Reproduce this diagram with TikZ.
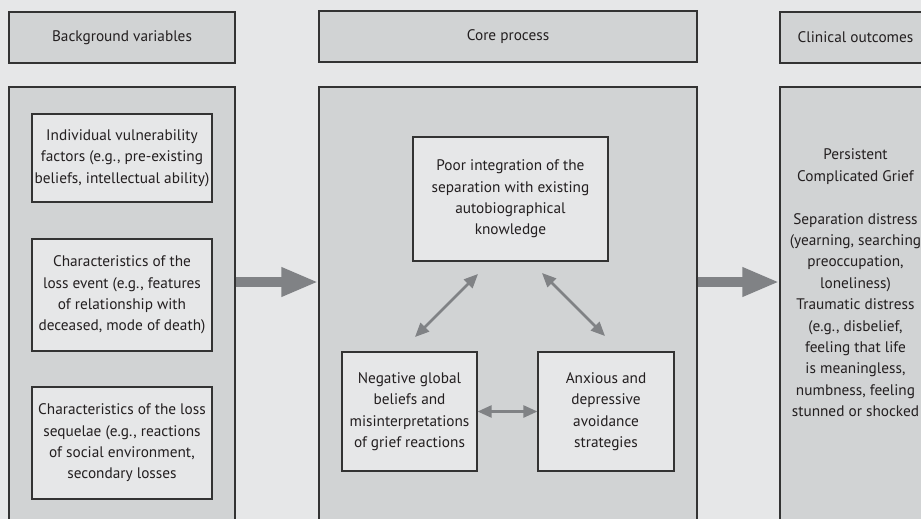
\documentclass[tikz,border=0pt]{standalone}
\usepackage{fontspec}
\setmainfont{PT Sans}
\usetikzlibrary{arrows.meta,calc}
\definecolor{bgc}{HTML}{E6E7E8}
\definecolor{panelc}{HTML}{D1D3D4}
\definecolor{boxc}{HTML}{E6E7E8}
\definecolor{arrc}{HTML}{808285}
\definecolor{linec}{HTML}{333333}
\definecolor{txtc}{HTML}{231F20}
\begin{document}
\begin{tikzpicture}[x=1pt,y=-1pt,
  txt/.style={font=\fontsize{15.3}{21.4}\selectfont, text=txtc, align=center},
  panel/.style={draw=linec, line width=1.2pt, fill=panelc, inner sep=0pt, txt},
  inbox/.style={draw=linec, line width=1.2pt, fill=boxc, inner sep=0pt, txt},
  bigarrow/.style={draw=arrc, line width=10pt, -{Triangle[length=37pt,width=27pt]}},
  smallarrow/.style={draw=arrc, line width=2.5pt, {Triangle[length=14pt,width=12pt]}-{Triangle[length=14pt,width=12pt]}}
]
\path[use as bounding box, clip] (0,0) rectangle (921,519);
\fill[bgc] (0,0) rectangle (921,519);

% headers
\node[panel, minimum width=226pt, minimum height=51pt] (hl) at (122,37.5) {Background variables};
\node[panel, minimum width=378pt, minimum height=51pt] (hm) at (508,36.5) {Core process};
\node[panel, minimum width=151pt, minimum height=51pt] (hr) at (855.5,37.5) {Clinical outcomes};

% panels
\node[panel, minimum width=226pt, minimum height=453pt] (pl) at (122,313.5) {};
\node[panel, minimum width=378pt, minimum height=453pt] (pm) at (508,313.5) {};
\node[panel, minimum width=151pt, minimum height=453pt] (pr) at (855.5,313.5) {};

% left inner boxes
\node[inbox, minimum width=180pt, minimum height=88pt] (b1) at (122,158)
  {Individual vulnerability\\factors (e.g., pre-existing\\beliefs, intellectual ability)};
\node[inbox, minimum width=180pt, minimum height=112pt] (b2) at (122,295)
  {Characteristics of the\\loss event (e.g., features\\of relationship with\\deceased, mode of death)};
\node[inbox, minimum width=180pt, minimum height=112pt] (b3) at (122,443)
  {Characteristics of the loss\\sequelae (e.g., reactions\\of social environment,\\secondary losses};

% middle inner boxes
\node[inbox, minimum width=195pt, minimum height=124pt] (pi) at (510.5,199)
  {Poor integration of the\\separation with existing\\autobiographical\\knowledge};
\node[inbox, minimum width=135pt, minimum height=119pt] (nb) at (409.5,411.5)
  {Negative global\\beliefs and\\misinterpretations\\of grief reactions};
\node[inbox, minimum width=136pt, minimum height=119pt] (av) at (606,411.5)
  {Anxious and\\depressive\\avoidance\\strategies};

% right panel text
\node[txt] (out) at (855.5,283)
  {Persistent\\Complicated Grief\\[21.4pt]Separation distress\\(yearning, searching\\preoccupation,\\loneliness)\\Traumatic distress\\(e.g., disbelief,\\feeling that life\\is meaningless,\\numbness, feeling\\stunned or shocked};

% arrows
\coordinate (ay) at (0,282);
\draw[bigarrow] (pl.east |- ay) -- (pm.west |- ay);
\draw[bigarrow] (pm.east |- ay) -- (pr.west |- ay);

\coordinate (d1a) at (415,337);
\coordinate (d1b) at (478,274);
\coordinate (d2a) at (542,273);
\coordinate (d2b) at (605,336);
\draw[smallarrow] (d1a) -- (d1b);
\draw[smallarrow] (d2a) -- (d2b);
\draw[smallarrow] (nb.east) -- (av.west);
\end{tikzpicture}
\end{document}
